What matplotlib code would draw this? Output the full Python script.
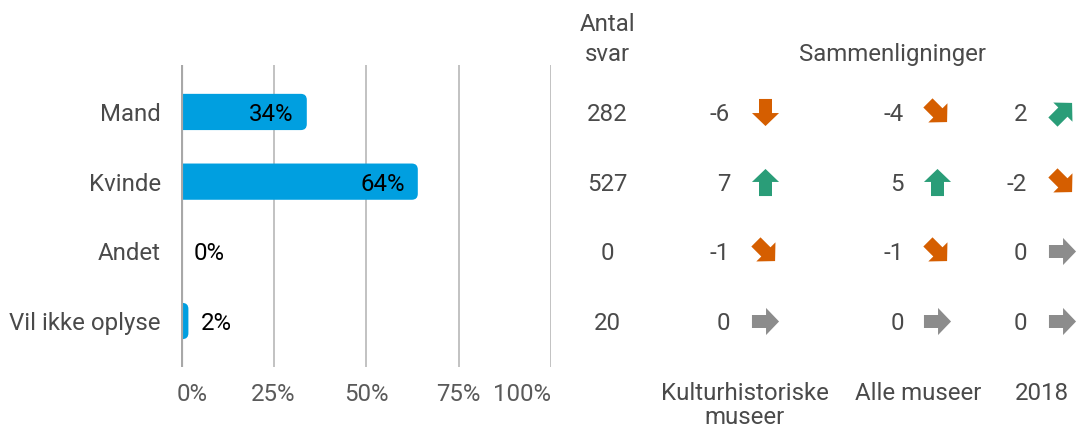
import numpy as np
import matplotlib.pyplot as plt
from matplotlib.patches import FancyBboxPatch
from matplotlib.markers import MarkerStyle
from matplotlib.path import Path
from matplotlib.transforms import Affine2D

# ── Data ──────────────────────────────────────────────────────────
categories = ["Mand", "Kvinde", "Andet", "Vil ikke oplyse"]
shares     = [34, 64, 0, 2]              # percent
antal_svar = [282, 527, 0, 20]
comp_names = ["Kulturhistoriske\nmuseer", "Alle museer", "2018"]
comp_kult  = [-6, 7, -1, 0]
comp_alle  = [-4, 5, -1, 0]
comp_2018  = [2, -2, 0, 0]
x_ticks    = [0, 25, 50, 75, 100]

# ── Style ─────────────────────────────────────────────────────────
BAR    = "#009fe0"
LABEL  = "#4a4a4a"
TICK   = "#5a5a5a"
GRID   = "#bdbdbd"
UP     = "#2a9d78"
DOWN   = "#d55e00"
FLAT   = "#8c8c8c"
FS     = 17.3
VA     = "center_baseline"

plt.rcParams["font.family"] = ["Roboto", "DejaVu Sans"]

W, H = 1078, 428
fig = plt.figure(figsize=(W / 100, H / 100), dpi=100)

def fx(px):
    return px / W

def fy(py):
    return 1 - py / H

# ── Bar axes ──────────────────────────────────────────────────────
ax = fig.add_axes([fx(181), fy(367), fx(551) - fx(181), fy(65) - fy(367)])
ypos = np.arange(len(categories))
ax.set_xlim(0, 100)
ax.set_ylim(3.66, -0.674)
for s in ax.spines.values():
    s.set_visible(False)
ax.set_xticks([])
ax.set_yticks([])
for t in x_ticks[1:]:
    ax.axvline(t, color=GRID, lw=1.3, zorder=0)
ax.axvline(0, color="#a8a8a8", lw=3, zorder=4)

bar_h = 0.52
px_x = 370 / 100.0        # pixels per x unit
px_y = (367 - 65) / (3.66 + 0.674)
aspect = px_x / px_y
bars = ax.barh(ypos, shares, height=bar_h, color=BAR, lw=0, zorder=2)
# swap the square bars for ones with a rounded right end
for rect in bars:
    x0, y0 = rect.get_x(), rect.get_y()
    w, h = rect.get_width(), rect.get_height()
    rect.set_visible(False)
    if w <= 0:
        continue
    r = 6 / px_x
    ax.add_patch(FancyBboxPatch((x0 - r, y0), w + r, h,
                                boxstyle=f"round,pad=0,rounding_size={r}",
                                mutation_aspect=aspect,
                                fc=BAR, ec="none", zorder=2, clip_on=True))

for y, v in zip(ypos, shares):
    if v >= 20:
        ax.text(v - 3.5, y, f"{v}%", ha="right", va=VA,
                fontsize=FS, color="black", zorder=5)
    else:
        ax.text(v + 3.5, y, f"{v}%", ha="left", va=VA,
                fontsize=FS, color="black", zorder=5)

for y, c in zip(ypos, categories):
    ax.text(-5.5, y, c, ha="right", va=VA, fontsize=FS, color=LABEL)

for i, t in enumerate(x_ticks):
    ha = "left" if i == 0 else ("right" if i == len(x_ticks) - 1 else "center")
    fig.text(fx(181 + t * px_x) + (-0.004 if i == 0 else 0.0), fy(392),
             f"{t}%", ha=ha, va=VA, fontsize=FS, color=TICK)

# ── Table axes (Antal svar + comparisons) ────────────────────────
tx = fig.add_axes([0, fy(367), 1, fy(65) - fy(367)])
tx.set_xlim(0, W)
tx.set_ylim(3.66, -0.674)
tx.axis("off")

for y, n in zip(ypos, antal_svar):
    tx.text(607, y, str(n), ha="center", va=VA, fontsize=FS, color=LABEL)

fig.text(fx(607), fy(22), "Antal", ha="center", va=VA, fontsize=FS, color=LABEL)
fig.text(fx(607), fy(52), "svar", ha="center", va=VA, fontsize=FS, color=LABEL)
fig.text(fx(893), fy(52), "Sammenligninger", ha="center", va=VA,
         fontsize=FS, color=LABEL)

arrow = Path([(0, 0.5), (0.5, 0.02), (0.24, 0.02), (0.24, -0.5),
              (-0.24, -0.5), (-0.24, 0.02), (-0.5, 0.02), (0, 0.5)],
             [Path.MOVETO] + [Path.LINETO] * 6 + [Path.CLOSEPOLY])

def arrow_style(d):
    if d >= 5:
        return 0, UP
    if d > 0:
        return -45, UP
    if d == 0:
        return -90, FLAT
    if d > -5:
        return -135, DOWN
    return 180, DOWN

num_right = [730, 904, 1027]
arr_x     = [765, 937, 1062]
name_x    = [745, 918, 1042]
for col, vals in enumerate([comp_kult, comp_alle, comp_2018]):
    for y, d in zip(ypos, vals):
        tx.text(num_right[col], y, str(d), ha="right", va=VA,
                fontsize=FS, color=LABEL)
        rot, colr = arrow_style(d)
        m = MarkerStyle(arrow, transform=Affine2D().rotate_deg(rot))
        tx.plot(arr_x[col], y, marker=m, ms=19.5, color=colr,
                mec="none", ls="none")
    for k, line in enumerate(comp_names[col].split("\n")):
        fig.text(fx(name_x[col]), fy(391 + 24 * k), line, ha="center",
                 va=VA, fontsize=FS, color=LABEL)

fig.savefig("out.png", dpi=100)
